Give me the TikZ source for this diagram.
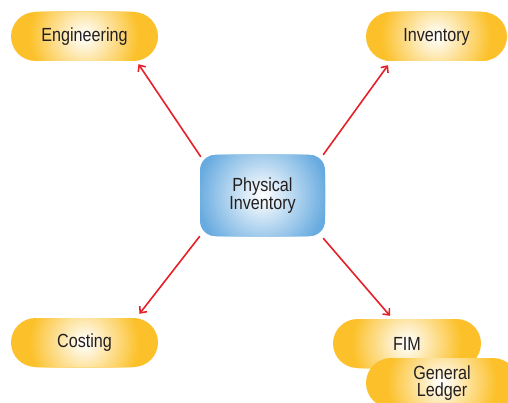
\documentclass[tikz,border=0pt]{standalone}
\usepackage{fontspec}
\setmainfont[FakeStretch=0.85]{Liberation Sans}
\usetikzlibrary{shapes.misc,arrows.meta}
\definecolor{pillyellow}{RGB}{252,193,42}
\definecolor{hubblue}{RGB}{104,171,224}
\definecolor{linkred}{RGB}{230,32,40}
\definecolor{labelgray}{RGB}{35,31,32}

\begin{document}
\begin{tikzpicture}[x=1pt,y=-1pt,
                    glow/.style 2 args={path picture={
                      \foreach \k [evaluate=\k as \mix using 100-4*\k] in {0,...,25}
                        \fill[#1!\mix!white] (path picture bounding box.center) circle ({#2*(1-\k/26)*1pt});}},
                    pill/.style={rounded rectangle,minimum width=147pt,minimum height=49pt,inner sep=0pt,
                                 fill=pillyellow,glow={pillyellow}{56},text=labelgray,align=center,
                                 font=\fontsize{19}{17}\selectfont},
                    hub/.style={rectangle,rounded corners=15pt,minimum width=125pt,minimum height=81pt,inner sep=0pt,
                                fill=hubblue,glow={hubblue}{66},text=labelgray,align=center,
                                font=\fontsize{19}{16.5}\selectfont},
                    link/.style={draw=linkred,line width=1.6pt,-{Straight Barb[length=5pt,width=9pt]}}]
  \useasboundingbox (0,0) rectangle (508,403);
  \clip (0,0) rectangle (508,403);

  \node[hub] (pi) at (262.5,195.5) {Physical\\Inventory};
  \node[pill] (eng) at (84.5,36.5) {Engineering};
  \node[pill,minimum width=141pt] (inv) at (436.5,36.5) {Inventory};
  \node[pill] (cost) at (84.5,342.5) {Costing};
  \node[pill,minimum width=148pt] (fim) at (407,343.5) {FIM};
  \node[pill,minimum width=152pt,minimum height=50pt] (gl) at (442,383) {General\\Ledger};

  \path[every edge/.style={link}]
    ([xshift=1pt,yshift=-2pt]pi.north west) edge ([xshift=5pt,yshift=-3pt]eng.south east)
    ([xshift=-2pt]pi.north east) edge ([xshift=-2.5pt,yshift=-4pt]inv.south west)
    (pi.south west) edge ([xshift=6pt,yshift=4pt]cost.north east)
    ([xshift=-2pt,yshift=-2pt]pi.south east) edge ([xshift=32.5pt,yshift=3pt]fim.north west);

\end{tikzpicture}
\end{document}
